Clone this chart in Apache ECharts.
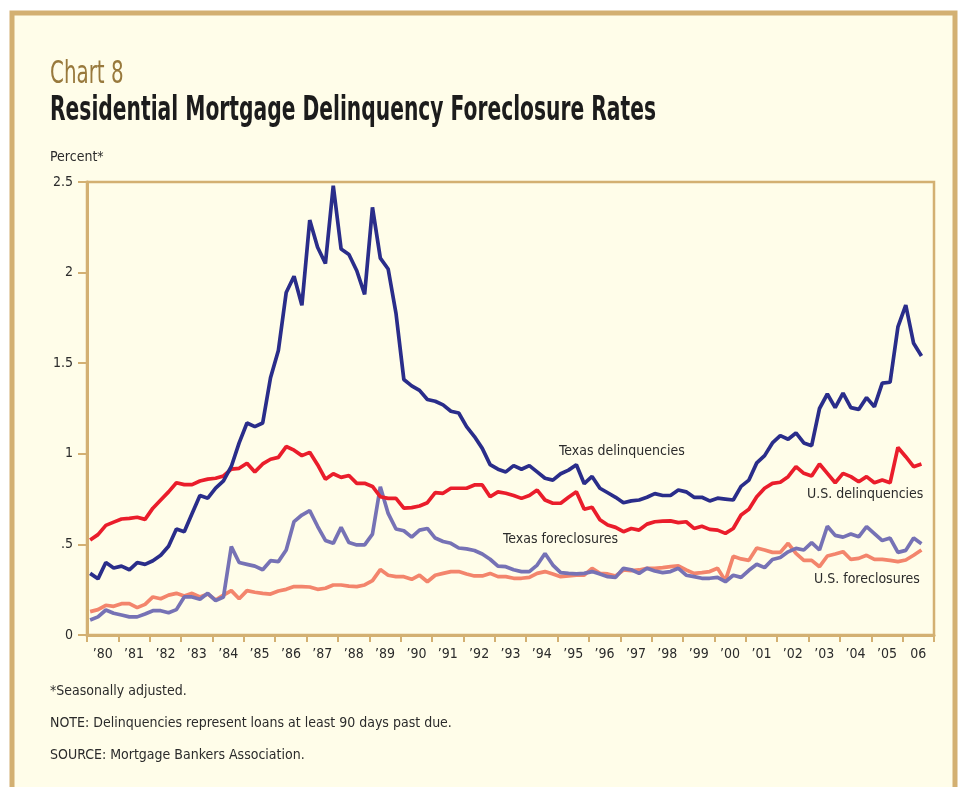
<!DOCTYPE html>
<html>
<head>
<meta charset="utf-8">
<script src="https://cdn.jsdelivr.net/npm/echarts@6/dist/echarts.min.js"></script>
<style>
html,body{margin:0;padding:0;background:#ffffff;}
#chart{width:959px;height:787px;}
</style>
</head>
<body>
<div id="chart"></div>
<script>
// ---- Data (quarterly, 1980 Q1 .. 2006 Q3) ----
var START_YEAR = 1980;
var yearLabels = ['’80','’81','’82','’83','’84','’85','’86','’87','’88','’89','’90','’91','’92','’93','’94','’95','’96','’97','’98','’99','’00','’01','’02','’03','’04','’05','06'];
var yTickLabels = {0:'0',0.5:'.5',1:'1',1.5:'1.5',2:'2',2.5:'2.5'};

var texasDelinq = [
0.34,0.31,0.40,0.37, 0.38,0.36,0.40,0.39, 0.41,0.44,0.49,0.585, 0.57,0.67,0.77,0.755,
0.81,0.85,0.93,1.06, 1.17,1.15,1.17,1.42, 1.57,1.89,1.98,1.82, 2.29,2.14,2.05,2.48,
2.13,2.10,2.01,1.88, 2.36,2.08,2.02,1.775, 1.41,1.375,1.35,1.30, 1.29,1.27,1.235,1.225,
1.15,1.095,1.03,0.94, 0.915,0.90,0.935,0.915, 0.935,0.90,0.865,0.855, 0.89,0.91,0.94,0.835,
0.875,0.81,0.785,0.76, 0.73,0.74,0.745,0.76, 0.78,0.77,0.77,0.80, 0.79,0.76,0.76,0.74,
0.755,0.75,0.745,0.82, 0.855,0.95,0.99,1.06, 1.10,1.08,1.115,1.06, 1.045,1.25,1.33,1.255,
1.335,1.255,1.245,1.31, 1.26,1.39,1.395,1.70, 1.82,1.61,1.54];

var usDelinq = [
0.524,0.554,0.605,0.623, 0.64,0.644,0.65,0.638, 0.70,0.745,0.79,0.84, 0.83,0.83,0.85,0.86,
0.865,0.878,0.915,0.92, 0.948,0.90,0.944,0.97, 0.98,1.04,1.02,0.99, 1.008,0.94,0.86,0.89,
0.87,0.88,0.837,0.837, 0.82,0.763,0.754,0.754, 0.70,0.703,0.712,0.73, 0.786,0.782,0.81,0.81,
0.81,0.828,0.828,0.763, 0.79,0.782,0.77,0.754, 0.77,0.80,0.745,0.727, 0.727,0.76,0.79,0.694,
0.705,0.636,0.607,0.594, 0.57,0.588,0.579,0.612, 0.625,0.628,0.63,0.62, 0.625,0.588,0.60,0.583,
0.579,0.561,0.588,0.662, 0.694,0.763,0.81,0.837, 0.843,0.874,0.929,0.892, 0.877,0.944,0.892,0.84,
0.892,0.874,0.846,0.874, 0.84,0.855,0.84,1.035, 0.984,0.929,0.944];

var texasForecl = [
0.083,0.10,0.138,0.12, 0.11,0.10,0.10,0.116, 0.134,0.134,0.123,0.14, 0.21,0.21,0.197,0.23,
0.19,0.21,0.488,0.40, 0.39,0.38,0.36,0.41, 0.405,0.469,0.626,0.662, 0.686,0.60,0.522,0.506,
0.594,0.51,0.497,0.497, 0.557,0.818,0.671,0.585, 0.575,0.54,0.579,0.588, 0.535,0.516,0.506,0.48,
0.475,0.466,0.447,0.418, 0.38,0.377,0.36,0.35, 0.35,0.386,0.45,0.386, 0.344,0.34,0.337,0.34,
0.35,0.337,0.322,0.318, 0.368,0.36,0.34,0.368, 0.353,0.344,0.35,0.368, 0.33,0.322,0.313,0.313,
0.318,0.294,0.33,0.318, 0.357,0.39,0.372,0.417, 0.428,0.459,0.478,0.469, 0.51,0.469,0.60,0.55,
0.54,0.557,0.542,0.598, 0.56,0.521,0.535,0.456, 0.467,0.535,0.504];

var usForecl = [
0.129,0.14,0.164,0.158, 0.173,0.173,0.151,0.169, 0.21,0.20,0.22,0.23, 0.215,0.23,0.21,0.226,
0.193,0.22,0.245,0.20, 0.245,0.236,0.23,0.226, 0.243,0.252,0.267,0.267, 0.265,0.252,0.258,0.276,
0.276,0.27,0.267,0.276, 0.30,0.361,0.33,0.322, 0.322,0.307,0.33,0.294, 0.33,0.34,0.35,0.35,
0.337,0.326,0.326,0.34, 0.322,0.322,0.313,0.313, 0.318,0.34,0.35,0.337, 0.322,0.326,0.33,0.33,
0.368,0.34,0.337,0.326, 0.359,0.355,0.359,0.368, 0.368,0.372,0.377,0.381, 0.359,0.34,0.344,0.35,
0.368,0.30,0.434,0.42, 0.412,0.48,0.469,0.456, 0.456,0.506,0.45,0.412, 0.412,0.377,0.436,0.447,
0.46,0.417,0.423,0.44, 0.417,0.417,0.412,0.405, 0.414,0.44,0.469];

// quarter index -> fractional year (point drawn near the start of each quarter)
function toPairs(arr){
  return arr.map(function(v,i){ return [START_YEAR + i/4 + 0.1, v]; });
}

var FONT = "'Liberation Sans Narrow','DejaVu Sans Condensed','Arial Narrow',sans-serif";
var TAN = '#d3b072';
var CREAM = '#fffde9';
var TXT = '#2b2b2b';
var LW = 3.7;

var chart = echarts.init(document.getElementById('chart'), null, {renderer:'canvas'});
var option = {
  backgroundColor: '#ffffff',
  animation: false,
  textStyle: {fontFamily: FONT},
  grid: {left: 87, right: 25, top: 182, bottom: 152, show: true, borderColor: TAN, borderWidth: 2.5, backgroundColor: 'transparent', containLabel: false},
  xAxis: [
    {
      type: 'category', data: yearLabels, boundaryGap: true, position: 'bottom',
      axisLine: {show: true, lineStyle: {color: TAN, width: 3}},
      axisTick: {show: true, length: 7, lineStyle: {color: TAN, width: 2}},
      axisLabel: {color: TXT, fontFamily: FONT, fontSize: 14, margin: 12},
      splitLine: {show: false}
    },
    {
      type: 'value', min: START_YEAR, max: START_YEAR + yearLabels.length, show: false,
      splitLine: {show: false}
    }
  ],
  yAxis: {
    type: 'value', min: 0, max: 2.5, interval: 0.5,
    axisLine: {show: true, lineStyle: {color: TAN, width: 3}},
    axisTick: {show: true, length: 9, lineStyle: {color: TAN, width: 2}},
    axisLabel: {color: TXT, fontFamily: FONT, fontSize: 14, margin: 14,
      formatter: function(v){ return yTickLabels[v] !== undefined ? yTickLabels[v] : String(v); }},
    splitLine: {show: false}
  },
  series: [
    {name:'U.S. foreclosures', type:'line', xAxisIndex:1, data: toPairs(usForecl), showSymbol:false, lineStyle:{color:'#f3856c', width:LW}, itemStyle:{color:'#f3856c'}, z:2},
    {name:'Texas foreclosures', type:'line', xAxisIndex:1, data: toPairs(texasForecl), showSymbol:false, lineStyle:{color:'#7672b5', width:LW}, itemStyle:{color:'#7672b5'}, z:3},
    {name:'U.S. delinquencies', type:'line', xAxisIndex:1, data: toPairs(usDelinq), showSymbol:false, lineStyle:{color:'#ea1d2b', width:LW}, itemStyle:{color:'#ea1d2b'}, z:4},
    {name:'Texas delinquencies', type:'line', xAxisIndex:1, data: toPairs(texasDelinq), showSymbol:false, lineStyle:{color:'#2a2d8a', width:LW}, itemStyle:{color:'#2a2d8a'}, z:5}
  ],
  graphic: [
    {type:'rect', z:-10, silent:true, shape:{x:12, y:13, width:943, height:800}, style:{fill:CREAM, stroke:TAN, lineWidth:5}},
    {type:'text', x:50, y:59, scaleX:0.69, style:{text:'Chart 8', fill:'#98793c', font:'32px '+FONT, textVerticalAlign:'top'}},
    {type:'text', x:50, y:94, scaleX:0.662, style:{text:'Residential Mortgage Delinquency Foreclosure Rates', fill:'#1c1c1c', font:'bold 34px '+FONT, textVerticalAlign:'top'}},
    {type:'text', left:50, top:150, style:{text:'Percent*', fill:TXT, font:'14px '+FONT}},
    {type:'text', left:50, top:684, style:{text:'*Seasonally adjusted.', fill:TXT, font:'14px '+FONT}},
    {type:'text', left:50, top:716, style:{text:'NOTE: Delinquencies represent loans at least 90 days past due.', fill:TXT, font:'14px '+FONT}},
    {type:'text', left:50, top:748, style:{text:'SOURCE: Mortgage Bankers Association.', fill:TXT, font:'14px '+FONT}},
    {type:'text', left:559, top:444, style:{text:'Texas delinquencies', fill:TXT, font:'14px '+FONT}},
    {type:'text', left:807, top:487, style:{text:'U.S. delinquencies', fill:TXT, font:'14px '+FONT}},
    {type:'text', left:503, top:532, style:{text:'Texas foreclosures', fill:TXT, font:'14px '+FONT}},
    {type:'text', left:814, top:572, style:{text:'U.S. foreclosures', fill:TXT, font:'14px '+FONT}}
  ]
};
chart.setOption(option);
</script>
</body>
</html>
